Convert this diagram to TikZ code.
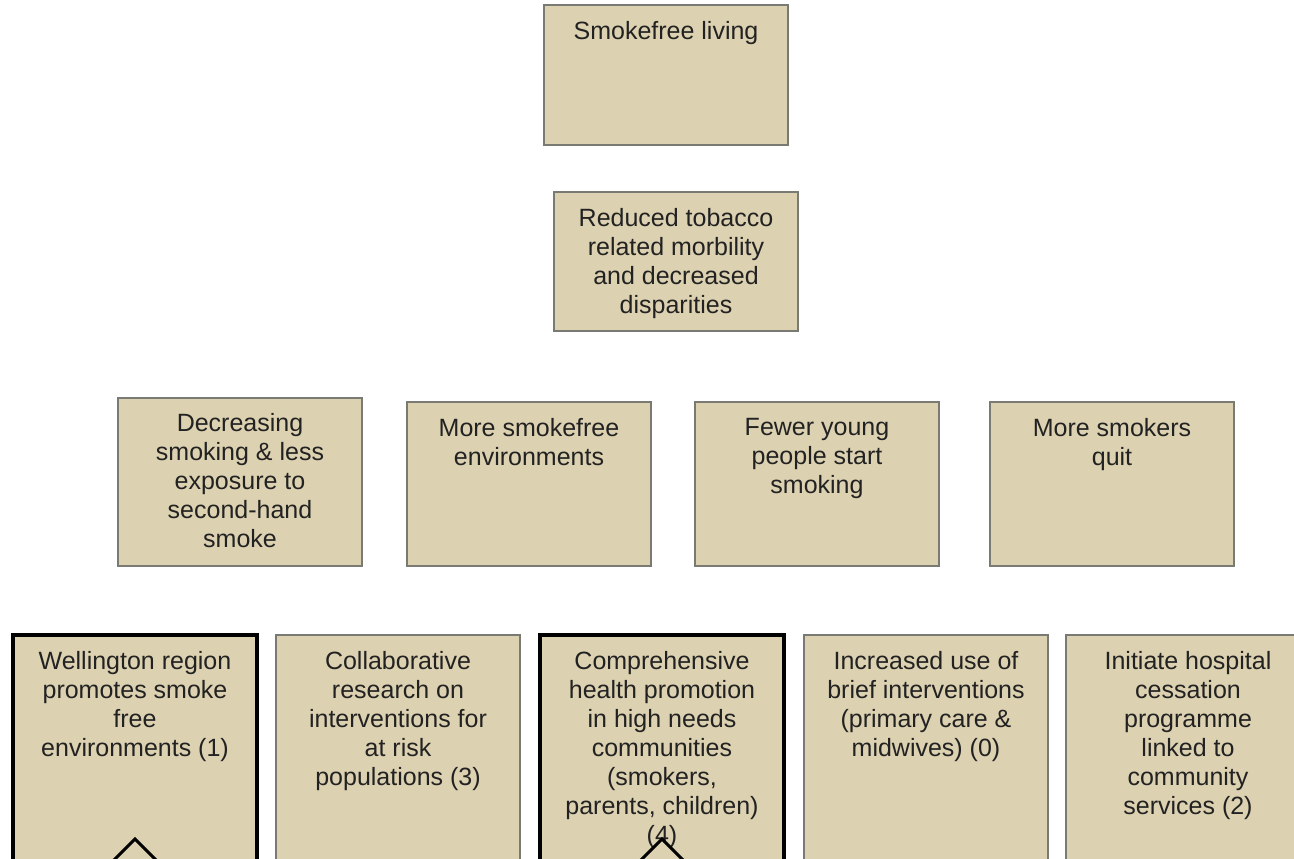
\documentclass[tikz,border=0pt]{standalone}
\usepackage{fontspec}
\setmainfont{Liberation Sans}
\definecolor{boxtan}{RGB}{220,209,176}
\definecolor{boxedge}{RGB}{122,122,116}
\definecolor{ink}{RGB}{34,34,34}
\begin{document}
\begin{tikzpicture}[x=1pt,y=-1pt,
  box/.style={draw=boxedge, line width=2.2pt, fill=boxtan, anchor=north west, inner sep=0pt, outer sep=0pt, minimum width=244pt},
  boldbox/.style={box, draw=black, line width=3.2pt},
  txt/.style={anchor=north, align=center, inner sep=0pt, text=ink, font=\fontsize{25}{29}\selectfont},
  marker/.style={draw=black, line width=3pt}]
\useasboundingbox (0,0) rectangle (1294,859);
\clip (0,0) rectangle (1294,859);
% level 1
\node[box, minimum height=140pt] (top) at (544,5) {};
\node[txt] (topt) at ([yshift=-16pt]top.north) {Smokefree living};
% level 2
\node[box, minimum height=139pt] (mid) at (554,192) {};
\node[txt] (midt) at ([yshift=-16pt]mid.north) {Reduced tobacco\\related morbility\\and decreased\\disparities};
% level 3
\node[box, minimum height=168pt] (a) at (118,398) {};
\node[txt] (at) at ([yshift=-15pt]a.north) {Decreasing\\smoking \& less\\exposure to\\second-hand\\smoke};
\node[box, minimum height=164pt] (b) at (407,402) {};
\node[txt] (bt) at ([yshift=-16pt]b.north) {More smokefree\\environments};
\node[box, minimum height=164pt] (c) at (695,402) {};
\node[txt] (ct) at ([yshift=-16pt]c.north) {Fewer young\\people start\\smoking};
\node[box, minimum height=164pt] (d) at (990,402) {};
\node[txt] (dt) at ([yshift=-16pt]d.north) {More smokers\\quit};
% level 4
\node[boldbox, minimum height=260pt] (e1) at (13,635) {};
\node[txt] (e1t) at ([yshift=-16pt]e1.north) {Wellington region\\promotes smoke\\free\\environments (1)};
\node[box, minimum height=260pt] (e2) at (276,635) {};
\node[txt] (e2t) at ([yshift=-16pt]e2.north) {Collaborative\\research on\\interventions for\\at risk\\populations (3)};
\node[boldbox, minimum height=260pt] (e3) at (540,635) {};
\node[txt] (e3t) at ([yshift=-16pt]e3.north) {Comprehensive\\health promotion\\in high needs\\communities\\(smokers,\\parents, children)\\(4)};
\node[box, minimum height=260pt] (e4) at (804,635) {};
\node[txt] (e4t) at ([yshift=-16pt]e4.north) {Increased use of\\brief interventions\\(primary care \&\\midwives) (0)};
\node[box, minimum height=260pt] (e5) at (1066,635) {};
\node[txt] (e5t) at ([yshift=-16pt]e5.north) {Initiate hospital\\cessation\\programme\\linked to\\community\\services (2)};
% expand markers
\coordinate (m1) at (135,839);
\coordinate (m1l) at (107,867);
\coordinate (m1r) at (163,867);
\draw[marker] (m1l) -- (m1) -- (m1r);
\coordinate (m3) at (662,839);
\coordinate (m3l) at (634,867);
\coordinate (m3r) at (690,867);
\draw[marker] (m3l) -- (m3) -- (m3r);
\end{tikzpicture}
\end{document}
